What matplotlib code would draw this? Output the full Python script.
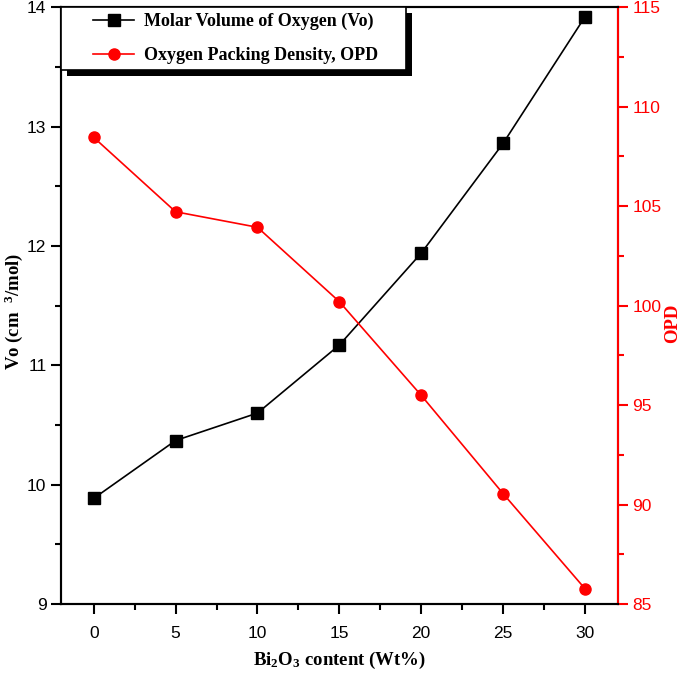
import numpy as np
import matplotlib.pyplot as plt
from matplotlib.ticker import MultipleLocator
from matplotlib.patches import Rectangle
from matplotlib.legend_handler import HandlerLine2D

# datos
bi2o3 = [0, 5, 10, 15, 20, 25, 30]
vo = [9.885, 10.37, 10.60, 11.17, 11.94, 12.86, 13.92]
opd = [108.46, 104.72, 103.94, 100.2, 95.49, 90.55, 85.77]

label_vo = "Molar Volume of Oxygen (Vo)"
label_opd = "Oxygen Packing Density, OPD"

plt.rcParams['mathtext.fontset'] = 'custom'
plt.rcParams['mathtext.rm'] = 'Liberation Serif:bold'
plt.rcParams['mathtext.default'] = 'rm'

serif_bold = dict(family='Liberation Serif', weight='bold')

fig = plt.figure(figsize=(6.85, 6.76), dpi=100)
ax = fig.add_axes([0.089, 0.1065, 0.8128, 0.8827])
ax2 = ax.twinx()

l1, = ax.plot(bi2o3, vo, color='black', lw=1.2, marker='s', ms=8,
              mec='black', mfc='black', label=label_vo)
l2, = ax2.plot(bi2o3, opd, color='red', lw=1.2, marker='o', ms=8,
               mec='red', mfc='red', label=label_opd)

ax.set_xlim(-2, 32)
ax.set_ylim(9, 14)
ax2.set_ylim(85, 115)

ax.xaxis.set_major_locator(MultipleLocator(5))
ax.xaxis.set_minor_locator(MultipleLocator(2.5))
ax.yaxis.set_major_locator(MultipleLocator(1))
ax.yaxis.set_minor_locator(MultipleLocator(0.5))
ax2.yaxis.set_major_locator(MultipleLocator(5))
ax2.yaxis.set_minor_locator(MultipleLocator(2.5))

for a in (ax, ax2):
    for s in a.spines.values():
        s.set_linewidth(1.5)
ax2.spines['right'].set_color('red')

ax.tick_params(which='major', direction='out', length=7, width=1.5,
               labelsize=12.5)
ax.tick_params(which='minor', direction='out', length=4, width=1.5)
ax.tick_params(axis='x', which='major', pad=9)
ax2.tick_params(which='major', direction='out', length=7, width=1.5,
                labelsize=12.5, colors='red')
ax2.tick_params(which='minor', direction='out', length=4, width=1.5,
                colors='red')
for lab in ax.get_xticklabels() + ax.get_yticklabels() + ax2.get_yticklabels():
    lab.set_family('Liberation Sans')

ax.set_xlabel(r"Bi$_{2}$O$_{3}$ content (Wt%)", fontsize=13.5, labelpad=6,
              **serif_bold)
ax.set_ylabel(r"Vo (cm  $^{3}$/mol)", fontsize=13.5, **serif_bold)
ax.yaxis.set_label_coords(-0.064, 0.49)
ax2.set_ylabel("OPD", fontsize=13.5, color='red', **serif_bold)
ax2.yaxis.set_label_coords(1.083, 0.47)

hmap = {l1: HandlerLine2D(xpad=1.5), l2: HandlerLine2D(xpad=1.5)}
leg = ax2.legend(handles=[l1, l2], labels=[label_vo + "     ", label_opd + "     "],
                 handler_map=hmap, loc='upper left', borderaxespad=0,
                 fancybox=False, edgecolor='black', framealpha=1,
                 prop=dict(family='Liberation Serif', weight='bold', size=13),
                 handlelength=3.75, borderpad=0.3, labelspacing=0.95,
                 handletextpad=0.55)
leg.get_frame().set_linewidth(1.2)
leg.set_zorder(6)

# sombra negra de la leyenda
fig.canvas.draw()
bb = leg.get_window_extent()
ax2.add_patch(Rectangle((bb.x0 + 6, bb.y0 - 6), bb.width, bb.height,
                        transform=None, facecolor='black', edgecolor='none',
                        zorder=5, clip_on=False))

fig.savefig("out.png", dpi=100)
